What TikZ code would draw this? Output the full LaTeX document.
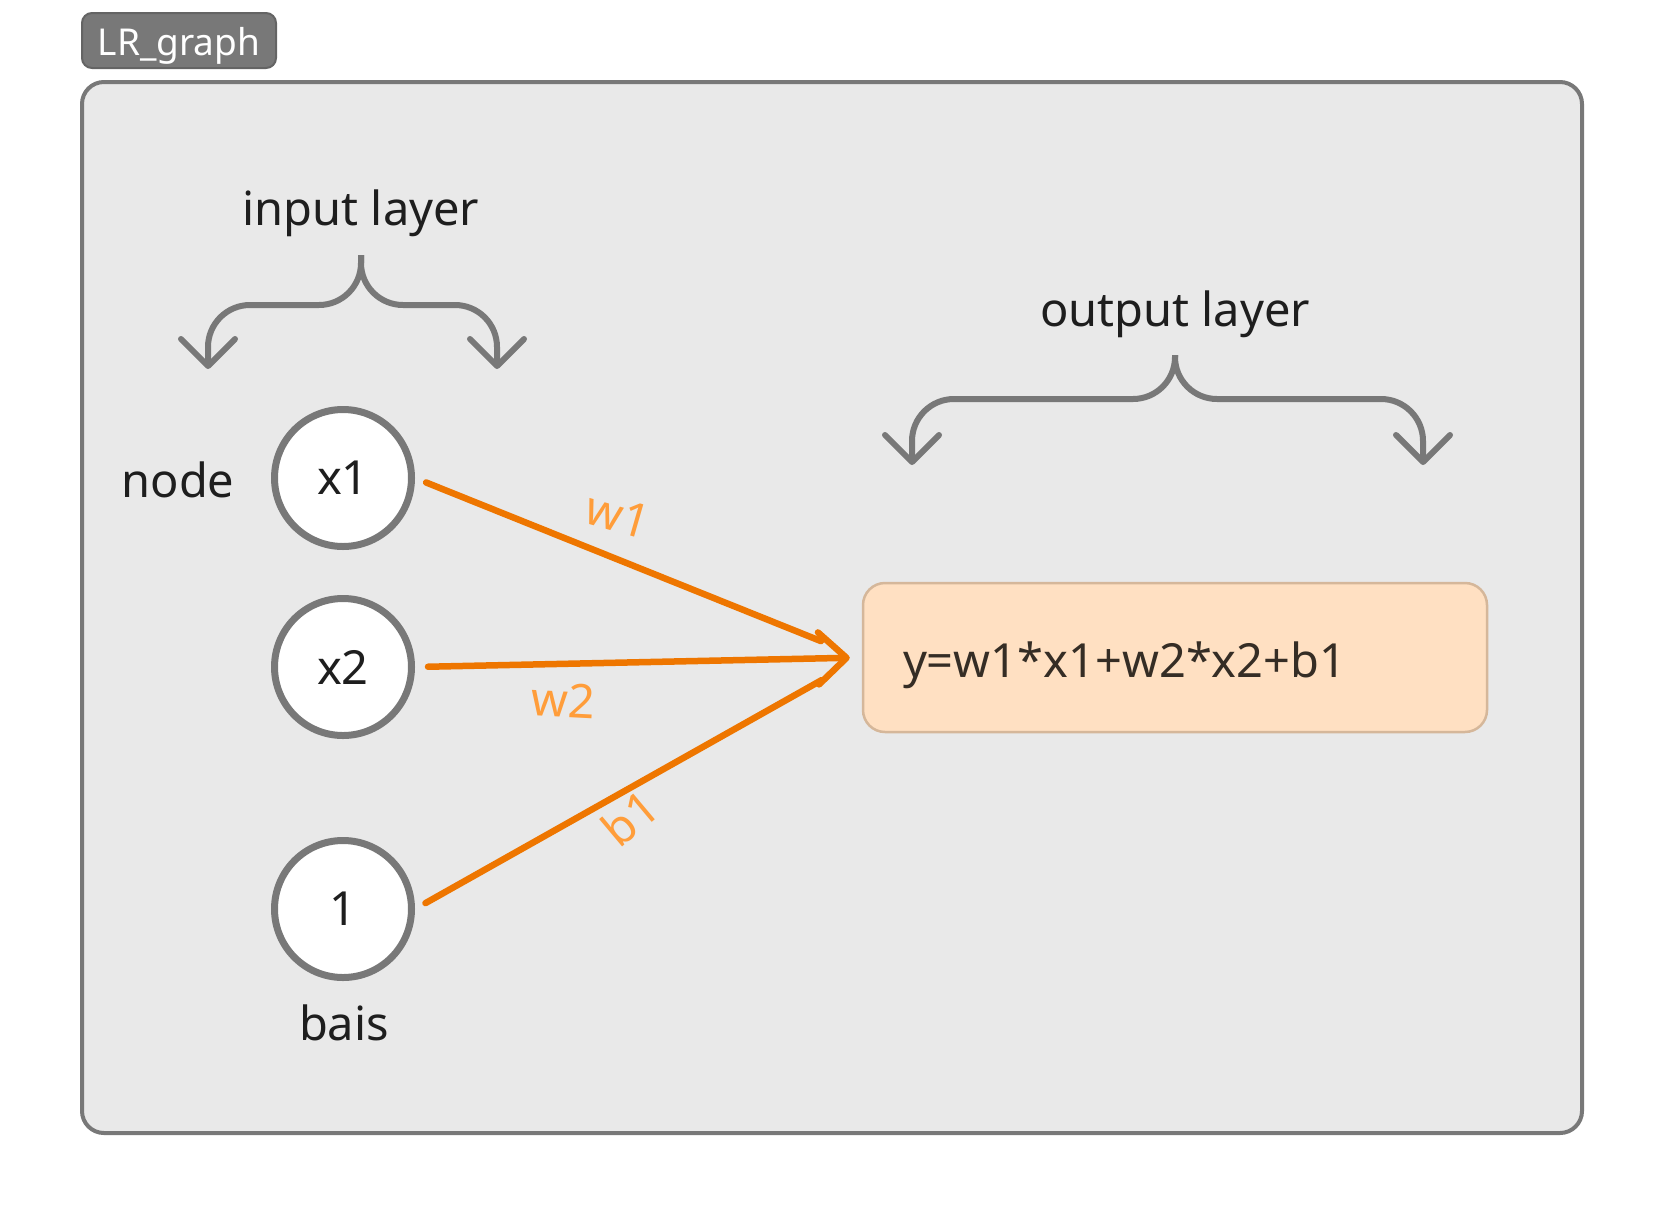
\documentclass[tikz,border=0pt]{standalone}
\usepackage{fontspec}
\setmainfont{Noto Sans}
\usepackage{tikz}
\usetikzlibrary{positioning, arrows.meta}
\definecolor{panel}{HTML}{E9E9E9}
\definecolor{framegray}{HTML}{787878}
\definecolor{tagedge}{HTML}{646464}
\definecolor{ink}{HTML}{1E1E1E}
\definecolor{boxfill}{HTML}{FFE0C2}
\definecolor{boxedge}{HTML}{D5B79A}
\definecolor{boxink}{HTML}{352D25}
\definecolor{wireor}{HTML}{EE7600}
\definecolor{wirelabel}{HTML}{FF9D3A}
\tikzset{% 
	big/.style = {font = \fontsize{47}{56}\selectfont, text = ink},
	frame/.style = {draw = framegray, fill = panel, line width = 4pt, rounded corners = 22pt},
	tag/.style = {draw = tagedge, fill = framegray, line width = 2pt, rounded corners = 10pt, minimum width = 194pt, minimum height = 55pt, text height = 32pt, text depth = 3pt, text = white, font = \fontsize{37}{44}\selectfont},
	unit/.style = {circle, draw = framegray, fill = white, line width = 7pt, minimum size = 137pt, big},
	outbox/.style = {rectangle, draw = boxedge, fill = boxfill, line width = 2.5pt, rounded corners = 22pt, minimum width = 624pt, minimum height = 149pt, text width = 544pt, text height = 40pt, text depth = 1pt, align = left, inner xsep = 40pt, big, text = boxink},
	brace/.style = {draw = framegray, line width = 6pt, rounded corners = 42pt, -{Straight Barb[length = 27pt, width = 54pt, round]}},
	wire/.style = {draw = wireor, line width = 6.5pt, line cap = round},
	wlabel/.style = {text = wirelabel, font = \fontsize{47}{56}\selectfont}
}
\begin{document}
\begin{tikzpicture}[x = 1pt, y = -1pt]
			\useasboundingbox (0,0) rectangle (1664,1216);
			\draw [frame] (82,82) rectangle (1582,1133);
			\node [tag] (title) at (179,40.5) {LR\_graph};
			\node [big, anchor = base] (inlay) at (361,225) {input layer};
			\node [big, anchor = base] (outlay) at (1175,326) {output layer};
			\node [big, anchor = base] (nodetxt) at (178,497) {node};
			\node [unit] (x1) at (343,478) {x1};
			\node [unit] (x2) at (343,667) {x2};
			\node [unit] (one) at (343,909) {1};
			\node [big, anchor = base] (bias) at (344,1040) {bais};
			\node [outbox] (out) at (1175,657.5) {y=w1*x1+w2*x2+b1};
			% braces over the layers
			\draw [brace] (361,255) |- (208,305) -- (208,369);
			\draw [brace] (361,255) |- (497,305) -- (497,369);
			\draw [brace] (1175,355) |- (912,399) -- (912,465);
			\draw [brace] (1175,355) |- (1423,399) -- (1423,465);
			% weights
			\path (x1.east) edge [wire, shorten <= 12pt, shorten >= 44pt] (out.west);
			\path (one.east) edge [wire, shorten <= 12pt, shorten >= 46pt] (out.west);
			\path (x2.east) edge [wire, -{Straight Barb[length = 28pt, width = 52pt, round]}, shorten <= 13pt, shorten >= 12pt] (out.west);
			\node [wlabel, rotate = -16] (lw1) at (618,515) {w1};
			\node [wlabel, rotate = -3] (lw2) at (563,700) {w2};
			\node [wlabel, rotate = 40] (lb1) at (630,818) {b1};
			\end{tikzpicture}
\end{document}
